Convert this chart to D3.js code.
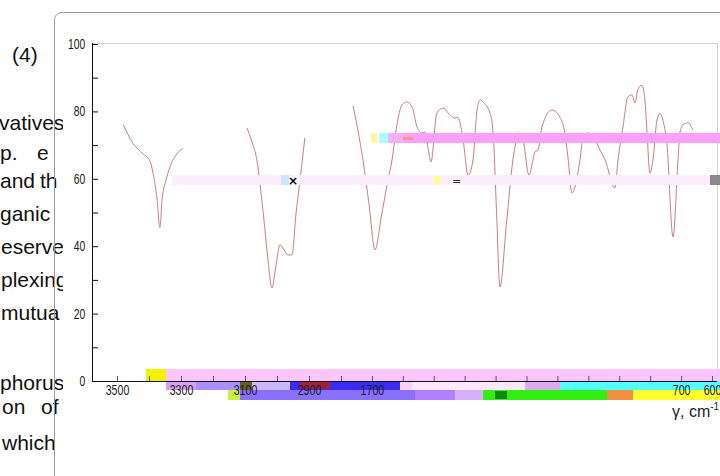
<!DOCTYPE html>
<html><head><meta charset="utf-8">
<script src="https://cdn.jsdelivr.net/npm/d3@7"></script>
<style>body{margin:0;background:#fff}svg{display:block}</style>
</head><body><svg id="c" width="720" height="476"></svg>
<script>
// ---- data ----
const segOH = [[3480,76],[3450,70.5],[3420,67.5],[3398,65.5],[3388,62],[3375,54],[3366,45.5],[3359,54],[3347,59.5],[3328,65],[3316,67],[3295,69]];
const segCH = [[3094,75.1],[3078,70.9],[3063,65.6],[3044,50.7],[3028,35.9],[3016,27.6],[3003,34.4],[2991,40.4],[2978,38.9],[2966,37.4],[2953,37.4],[2941,49.3],[2928,59.6],[2919,67.1],[2913,72.1]];
const segFP = [[1761,81.6],[1729,65.6],[1709,52.2],[1690,38.9],[1670,48.5],[1651,58.2],[1635,65.6],[1619,76.0],[1603,81.9],[1587,82.8],[1570,81.3],[1554,75.4],[1538,73.6],[1528,73.9],[1519,69.4],[1509,65.0],[1490,79.5],[1470,81.0],[1447,78.9],[1431,78.0],[1422,78.3],[1415,76.6],[1405,71.5],[1389,61.1],[1373,65.6],[1360,80.4],[1350,83.4],[1341,82.8],[1318,79.5],[1308,73.6],[1297,50.5],[1286,27.9],[1265,46.5],[1244,65.6],[1221,73.6],[1211,71.5],[1192,61.1],[1179,65.6],[1173,68.0],[1163,68.5],[1150,75.4],[1118,80.4],[1092,78.3],[1076,73.6],[1066,66.5],[1053,55.8],[1027,65.6],[1017,72.4],[1001,73.6],[988,73.0],[962,68.5],[946,65.6],[914,57.3],[904,65.6],[888,75.4],[872,84.3],[859,84.9],[849,82.5],[840,86.4],[827,87.8],[817,83.4],[810,73.6],[801,61.7],[791,65.6],[778,77.4],[768,79.5],[759,77.4],[746,70.6],[726,42.7],[710,65.6],[704,73.6],[694,76.0],[678,76.6],[662,74.5]];
const yTicks = [0,10,20,30,40,50,60,70,80,90,100];
const yTickLabels = [0,20,40,60,80,100];
const xTicks = [3500,3400,3300,3200,3100,3000,2900,1800,1700,1600,1500,1400,1300,1200,1100,1000,900,800,700,600];
const xTickLabels = [3500,3300,3100,2900,1700,700,600];
const xTitle = "γ, cm";
const xTitleSup = "-1";
const sideText = [
  ["(4)",12,62],["vatives",-1,130],["p.",0,160],["e",37,160],["and",0,188],["th",40,188],
  ["ganic",0,221],["eserve",1,254],["plexing",1,287],["mutua",1,320],
  ["phorus",0,390],["on",2,414],["of",41,414],["which",2,450]
];
// decorative rendering artefacts seen in the reference picture
const artefacts = [
  [371,133,6,10,"#fff6a0"],[379,133,9,10,"#a8ffff"],[388,133,15,10,"#f5b0f5"],[403,133,317,10,"#fd9ffd"],[403,137,10,3,"#f0a080"],
  [172,175,540,10,"#fdeefd"],[710,175,10,10,"#8a8a8a"],[281,175,8,10,"#c8e8ff"],[434,176,6,8,"#ffff80"],
  [146,369,20,12,"#f2f200"],[166,369,554,12,"#fcc6fc"],
  [166,381,30,9,"#d8a0f0"],[196,381,44,9,"#a890ff"],[240,381,12,9,"#606020"],[252,381,38,9,"#c8b8ff"],
  [290,381,110,9,"#3a2cf0"],[300,382,30,7,"#a02040"],[400,381,12,9,"#fdd0fd"],[412,381,113,9,"#fde8fd"],
  [525,381,35,9,"#e0a8f0"],[560,381,160,9,"#55ffff"],
  [228,390,12,10,"#c8f040"],[240,390,175,10,"#8a70ff"],[415,390,40,10,"#b080ff"],[455,390,28,10,"#d8b0ff"],
  [483,390,124,10,"#33ee11"],[495,391,12,8,"#118811"],[607,390,26,10,"#f09040"],[633,390,87,10,"#ffff30"]
];

// ---- drawing ----
const svg = d3.select("#c");
const x = d3.scaleLinear().domain([3500,2900,1800,600]).range([117,309,341,712]);
const y = d3.scaleLinear().domain([0,100]).range([381,44]);

// side text (clipped)
svg.append("clipPath").attr("id","tc").append("rect").attr("x",0).attr("y",0).attr("width",63).attr("height",476);
svg.append("g").attr("clip-path","url(#tc)")
  .selectAll("text").data(sideText).join("text")
  .attr("x",d=>d[1]).attr("y",d=>d[2]).text(d=>d[0])
  .attr("font-family","Liberation Sans, Arial, sans-serif").attr("font-size",21).attr("fill","#111");

// card border
svg.append("path")
  .attr("d","M54.5,476 L54.5,20.5 Q54.5,12.5 62.5,12.5 L720,12.5")
  .attr("fill","none").attr("stroke","#9a9a9a").attr("stroke-width",1);

// plot frame
svg.append("path").attr("d",`M92,43.5 H717.5 V381`).attr("fill","none").attr("stroke","#d2d2d2");

// spectrum
const line = d3.line().x(d=>x(d[0])).y(d=>y(d[1])).curve(d3.curveMonotoneX);
svg.append("g").selectAll("path").data([segOH,segCH,segFP]).join("path")
  .attr("d",line).attr("fill","none").attr("stroke","#c67f7f").attr("stroke-width",1);

// x axis line
const xAxis = d3.axisBottom(x).tickValues(xTicks).tickSizeInner(-5).tickSizeOuter(0).tickPadding(4)
  .tickFormat(d=> xTickLabels.includes(d) ? d : "");
const gx = svg.append("g").attr("transform","translate(0,381)").call(xAxis);
gx.select(".domain").attr("d","M92,0.5H717");
gx.selectAll("line").remove();

// artefacts
svg.append("g").selectAll("rect").data(artefacts).join("rect")
  .attr("x",d=>d[0]).attr("y",d=>d[1]).attr("width",d=>d[2]).attr("height",d=>d[3]).attr("fill",d=>d[4]);
svg.append("text").attr("x",288).attr("y",185).text("×").attr("font-size",12).attr("font-weight","bold").attr("font-family","DejaVu Sans");
svg.append("text").attr("x",452).attr("y",185).text("=").attr("font-size",11).attr("fill","#333").attr("font-family","DejaVu Sans");

// ticks and labels on top
svg.append("g").attr("transform","translate(0,381)").call(d3.axisBottom(x).tickValues(xTicks).tickSizeInner(-5).tickSizeOuter(0).tickFormat(""))
  .call(g=>g.select(".domain").remove()).selectAll("line").attr("stroke","#6040c0");
gx.raise();
gx.selectAll("text").attr("font-family","Liberation Sans, Arial, sans-serif").attr("font-size",14).attr("fill","#1a1a1a")
  .attr("transform","scale(0.76,1)");
gx.select(".domain").attr("stroke","#111");

// y axis
const yAxis = d3.axisLeft(y).tickValues(yTicks).tickSizeInner(-6).tickSizeOuter(0).tickPadding(9)
  .tickFormat(d=> yTickLabels.includes(d) ? d : "");
const gy = svg.append("g").attr("transform","translate(92,0)").call(yAxis);
gy.select(".domain").attr("stroke","#111").attr("d","M0.5,43V381");
gy.selectAll("line").attr("stroke","#111");
gy.selectAll("text").attr("font-family","Liberation Sans, Arial, sans-serif").attr("font-size",14).attr("fill","#1a1a1a")
  .attr("transform","scale(0.74,1)");

// axis title
const t = svg.append("text").attr("x",672).attr("y",417)
  .attr("font-family","Liberation Sans, Arial, sans-serif").attr("font-size",16).attr("fill","#222");
t.append("tspan").text(xTitle);
t.append("tspan").attr("font-size",10).attr("dy",-7).text(xTitleSup);
</script></body></html>
